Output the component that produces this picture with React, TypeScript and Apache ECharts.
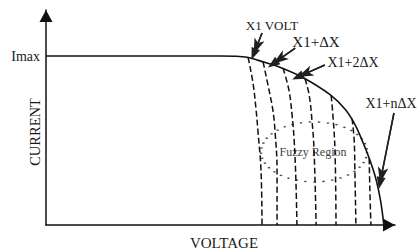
import React, { useEffect, useRef } from "react";
import * as echarts from "echarts";

// Main I-V curve (voltage %, current %)
const mainCurve: number[][] = [
  [0, 78.6], [50.0, 78.6], [54.2, 78.5], [57.6, 78.0], [62.2, 75.9], [67.0, 73.4], [73.6, 68.6],
  [81.4, 60.6], [85.7, 53.8], [88.5, 46.8], [90.8, 38.5], [92.8, 30.2], [94.6, 21.0],
  [95.9, 11.0], [96.8, 0],
];

// Dashed shifted curves X1, X1+ΔX, ... X1+nΔX
const dashed1: number[][] = [[57.9, 78.0], [59.3, 66.1], [60.2, 53.5], [60.7, 44.2], [61.6, 25.6], [61.9, 0]];
const dashed2: number[][] = [[62.2, 75.9], [63.9, 62.8], [65.0, 53.5], [65.6, 44.2], [66.2, 25.6], [66.2, 0]];
const dashed3: number[][] = [[67.9, 73.0], [69.6, 62.8], [70.5, 51.2], [71.1, 39.5], [71.6, 20.9], [71.9, 0]];
const dashed4: number[][] = [[74.2, 68.1], [75.4, 60.5], [76.2, 48.8], [76.8, 34.9], [77.4, 0]];
const dashed5: number[][] = [[81.7, 60.2], [82.2, 51.2], [82.8, 34.9], [83.1, 0]];
const dashed6: number[][] = [[87.7, 49.5], [88.3, 39.5], [88.5, 25.6], [88.8, 0]];
const dashed7: number[][] = [[92.6, 31.0], [92.8, 16.3], [93.1, 0]];
const dashedCurves = [dashed1, dashed2, dashed3, dashed4, dashed5, dashed6, dashed7];

// Fuzzy region centre
const fuzzyCenter: number[] = [76.8, 34.0];

// Annotation arrows: [from, to]
const arrowVolt: number[][] = [[61.9, 89.3], [59.5, 79.4]];
const arrowDx: number[][] = [[71.4, 82.3], [65.0, 74.9]];
const arrow2Dx: number[][] = [[79.9, 74.4], [72.1, 68.8]];
const arrowNDx: number[][] = [[99.7, 52.1], [95.7, 19.5]];
const arrows = [arrowVolt, arrowDx, arrow2Dx, arrowNDx];

const SERIF = "'Liberation Serif', 'Times New Roman', Times, serif";

export default function App() {
  const ref = useRef<HTMLDivElement>(null);
  useEffect(() => {
    if (!ref.current) return;
    const chart = echarts.init(ref.current, null, { renderer: "svg" });
    const axisLine = {
      show: true,
      lineStyle: { color: "#111", width: 1.5 },
      symbol: ["none", "triangle"],
      symbolSize: [13, 12],
      symbolOffset: [0, -6],
    };
    const dashedSeries = dashedCurves.map((d, i) => ({
      type: "line",
      name: "d" + i,
      data: d,
      smooth: 0.4,
      showSymbol: false,
      symbol: "none",
      lineStyle: { color: "#111", width: 1.5, type: [6, 3] },
      silent: true,
      z: 3,
    }));
    const txt = (text: string, x: number, y: number, size: number, extra: any = {}) => ({
      type: "text",
      x,
      y,
      silent: true,
      rotation: extra.rotation || 0,
      style: {
        text,
        fontSize: size,
        fontFamily: SERIF,
        fill: extra.fill || "#1a1a1a",
        align: extra.align || "center",
        verticalAlign: "middle",
      },
    });
    const texts = [
      txt("Imax", 40, 56, 14, { align: "right" }),
      txt("CURRENT", 35, 132, 14.5, { rotation: Math.PI / 2 }),
      txt("VOLTAGE", 224, 243, 15),
      txt("X1 VOLT", 272, 25, 13),
      txt("X1+ΔX", 316, 42, 15),
      txt("X1+2ΔX", 353, 62, 14),
      txt("X1+nΔX", 391, 103, 14),
      txt("Fuzzy Region", 313, 152, 12, { fill: "#444" }),
    ];
    chart.setOption({
      animation: false,
      grid: { left: 46, right: 22, top: 10, bottom: 25 },
      xAxis: {
        type: "value",
        min: 0,
        max: 100,
        axisLine,
        axisTick: { show: false },
        axisLabel: { show: false },
        splitLine: { show: false },
      },
      yAxis: {
        type: "value",
        min: 0,
        max: 100,
        axisLine,
        axisTick: { show: false },
        axisLabel: { show: false },
        splitLine: { show: false },
      },
      series: [
        {
          type: "scatter",
          data: [fuzzyCenter],
          symbol: "circle",
          symbolSize: [106, 60],
          silent: true,
          itemStyle: {
            color: "rgba(0,0,0,0)",
            borderColor: "#222",
            borderWidth: 1.8,
            borderType: [1.8, 5],
          },
          z: 1,
        },
        ...dashedSeries,
        {
          type: "line",
          data: mainCurve,
          smooth: 0.35,
          showSymbol: false,
          symbol: "none",
          lineStyle: { color: "#111", width: 1.6 },
          z: 4,
          markLine: {
            symbol: ["none", "arrow"],
            label: { show: false },
            lineStyle: { color: "#202020", width: 1.5, type: "solid" },
            data: arrows.map((c) => [{ coord: c[0] }, { coord: c[1] }]),
          },
        },
      ],
      graphic: texts,
    });
    // annotation arrowheads, positioned through the chart's own scales
    const arrowEls: any[] = [];
    arrows.forEach((c) => {
      const p0 = chart.convertToPixel({ gridIndex: 0 }, c[0]) as number[];
      const p1 = chart.convertToPixel({ gridIndex: 0 }, c[1]) as number[];
      const dx = p1[0] - p0[0];
      const dy = p1[1] - p0[1];
      const len = Math.sqrt(dx * dx + dy * dy) || 1;
      const ux = dx / len;
      const uy = dy / len;
      const tip = [p1[0] + 6 * ux, p1[1] + 6 * uy];
      const base = [p1[0] - 6 * ux, p1[1] - 6 * uy];
      const nx = -uy * 4.5;
      const ny = ux * 4.5;
      arrowEls.push({
        type: "line",
        silent: true,
        z: 50,
        shape: { x1: p0[0], y1: p0[1], x2: base[0], y2: base[1] },
        style: { stroke: "#202020", lineWidth: 1.5 },
      });
      arrowEls.push({
        type: "polygon",
        silent: true,
        z: 50,
        shape: { points: [tip, [base[0] + nx, base[1] + ny], [base[0] - nx, base[1] - ny]] },
        style: { fill: "#202020" },
      });
    });
    chart.setOption({ graphic: [...texts, ...arrowEls] });
    return () => chart.dispose();
  }, []);
  return (
    <div
      ref={ref}
      style={{ position: "absolute", left: 0, top: 0, width: 417, height: 250, background: "#fff" }}
    />
  );
}
